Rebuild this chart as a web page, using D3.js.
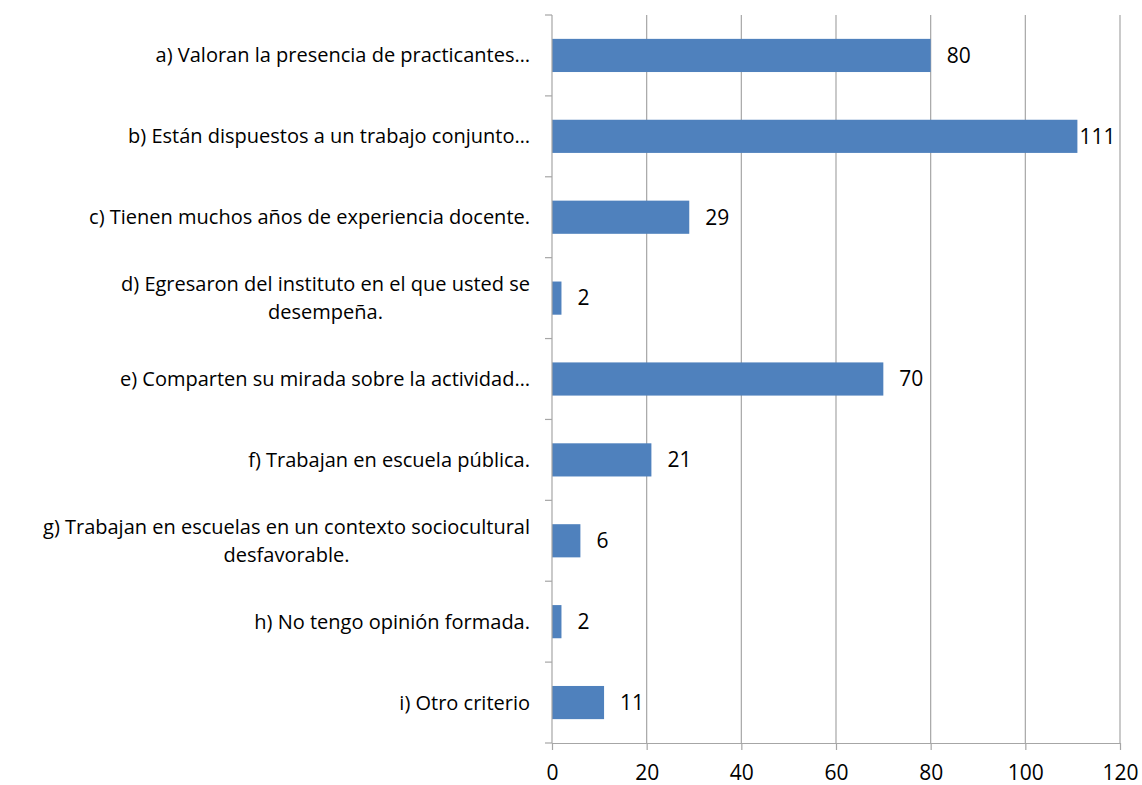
<!DOCTYPE html>
<html>
<head>
<meta charset="utf-8">
<script src="https://cdn.jsdelivr.net/npm/d3@7"></script>
<style>
  html, body { margin: 0; padding: 0; background: #fff; }
  svg { display: block; }
  text { font-family: "Open Sans", "Noto Sans", sans-serif; fill: #000; }
</style>
</head>
<body>
<svg id="chart" width="1142" height="785"></svg>
<script>
const categories = [
  "a) Valoran la presencia de practicantes…",
  "b) Están dispuestos a un trabajo conjunto…",
  "c) Tienen muchos años de experiencia docente.",
  "d) Egresaron del instituto en el que usted se\ndesempeña.",
  "e) Comparten su mirada sobre la actividad…",
  "f) Trabajan en escuela pública.",
  "g) Trabajan en escuelas en un contexto sociocultural\ndesfavorable.",
  "h) No tengo opinión formada.",
  "i) Otro criterio"
];
const values = [80, 111, 29, 2, 70, 21, 6, 2, 11];
const xTicks = [0, 20, 40, 60, 80, 100, 120];

const W = 1142, H = 785;
const margin = { top: 15, right: 22, bottom: 42, left: 552 };
const svg = d3.select("#chart");
const g = svg.append("g").attr("transform", `translate(${margin.left},${margin.top})`);
const iw = W - margin.left - margin.right;
const ih = H - margin.top - margin.bottom;

const x = d3.scaleLinear().domain([0, 120]).range([0, iw]);
const y = d3.scaleBand().domain(categories).range([0, ih]).paddingInner(0.59).paddingOuter(0.295);
const band = ih / categories.length;

const gridColor = "#a6a6a6";
const fontSize = "20px";

// gridlines
g.selectAll("line.grid").data(xTicks.slice(1)).enter().append("line")
  .attr("x1", d => x(d)).attr("x2", d => x(d))
  .attr("y1", 0).attr("y2", ih)
  .attr("stroke", gridColor).attr("stroke-width", 1.2);

// bars
g.selectAll("rect.bar").data(values).enter().append("rect")
  .attr("x", x(0))
  .attr("y", (d, i) => y(categories[i]))
  .attr("width", d => x(d) - x(0))
  .attr("height", y.bandwidth())
  .attr("fill", "#4f81bd");

// x axis
const xAxis = g.append("g").attr("transform", `translate(0,${ih})`)
  .call(d3.axisBottom(x).tickValues(xTicks).tickSize(7).tickSizeOuter(0).tickPadding(15));
xAxis.select(".domain").attr("stroke", gridColor).attr("stroke-width", 1.2);
xAxis.selectAll(".tick line").attr("stroke", gridColor).attr("stroke-width", 1.2);
xAxis.selectAll(".tick text").attr("font-size", "21px").attr("fill", "#000")
  .attr("font-family", "'Open Sans', 'Noto Sans', sans-serif");

// y axis line + ticks at band boundaries
g.append("line").attr("x1", 0).attr("x2", 0).attr("y1", 0).attr("y2", ih)
  .attr("stroke", gridColor).attr("stroke-width", 1.2);
g.selectAll("line.ytick").data(d3.range(categories.length + 1)).enter().append("line")
  .attr("x1", -7).attr("x2", 0)
  .attr("y1", i => i * band).attr("y2", i => i * band)
  .attr("stroke", gridColor).attr("stroke-width", 1.2);

// category labels
const lineH = 28;
categories.forEach((c, i) => {
  const lines = c.split("\n");
  const cy = y(c) + y.bandwidth() / 2;
  const t = g.append("text")
    .attr("text-anchor", "middle")
    .attr("font-size", fontSize);
  lines.forEach((ln, k) => {
    t.append("tspan")
      .attr("x", 0)
      .attr("y", cy + (k - (lines.length - 1) / 2) * lineH)
      .attr("dy", "0.35em")
      .text(ln);
  });
  const bb = t.node().getBBox();
  const right = -22;
  const cx = right - bb.width / 2;
  t.selectAll("tspan").attr("x", cx);
});

// value labels
values.forEach((v, i) => {
  const t = g.append("text")
    .attr("x", x(v) + 16)
    .attr("y", y(categories[i]) + y.bandwidth() / 2)
    .attr("dy", "0.35em")
    .attr("font-size", "21px")
    .text(v);
  const w = t.node().getComputedTextLength();
  if (x(v) + 16 + w > iw - 2) t.attr("x", x(v) + 2);
});
</script>
</body>
</html>
